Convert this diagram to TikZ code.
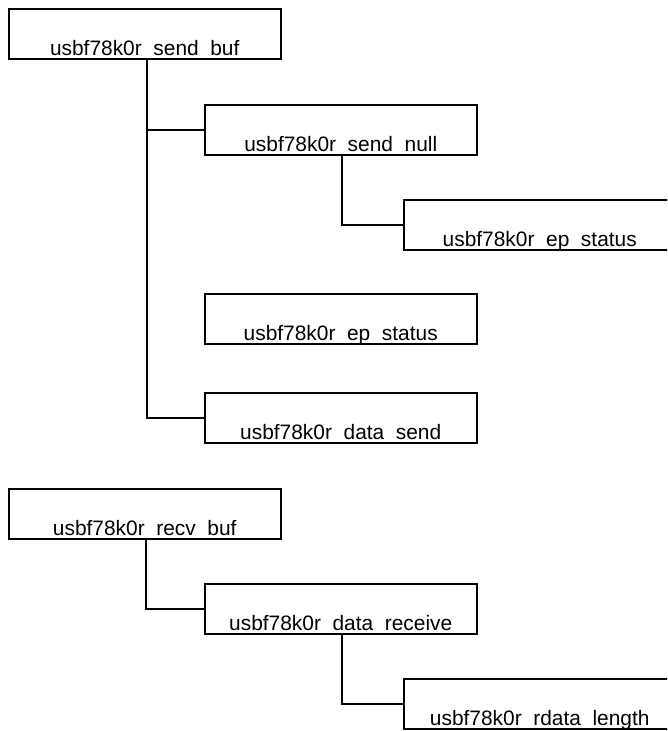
\documentclass[tikz,border=0pt]{standalone}
\usepackage{fontspec}
\setmainfont{Liberation Sans}
\newcommand{\usgap}{\hspace{0.556em}}
\begin{document}
\begin{tikzpicture}[x=1pt,y=-1pt,
  fnbox/.style={draw=black, line width=1.5pt, rectangle, anchor=north west,
    minimum width=272pt, minimum height=50pt, inner xsep=0pt, inner ysep=0pt,
    text height=46.3pt, text depth=3.7pt,
    font=\fontsize{20.9}{25}\selectfont},
  link/.style={draw=black, line width=1.5pt}]
\useasboundingbox (0,0) rectangle (667,731);
\clip (0,0) rectangle (667,731);
\node[fnbox] (b1) at (8,8)    {usbf78k0r\usgap send\usgap buf};
\node[fnbox] (b2) at (204,104) {usbf78k0r\usgap send\usgap null};
\node[fnbox] (b3) at (403,199) {usbf78k0r\usgap ep\usgap status};
\node[fnbox] (b4) at (204,293) {usbf78k0r\usgap ep\usgap status};
\node[fnbox] (b5) at (204,392) {usbf78k0r\usgap data\usgap send};
\node[fnbox] (b6) at (8,488)  {usbf78k0r\usgap recv\usgap buf};
\node[fnbox] (b7) at (204,583) {usbf78k0r\usgap data\usgap receive};
\node[fnbox] (b8) at (403,678) {usbf78k0r\usgap rdata\usgap length};
\coordinate (s1) at ([xshift=2pt]b1.south);
\coordinate (s2) at ([xshift=1pt]b2.south);
\coordinate (s6) at ([xshift=1pt]b6.south);
\coordinate (s7) at ([xshift=1pt]b7.south);
\draw[link] (s1) |- (b5.west);
\draw[link] (s1 |- b2.west) -- (b2.west);
\draw[link] (s2) |- (b3.west);
\draw[link] (s6) |- (b7.west);
\draw[link] (s7) |- (b8.west);
\end{tikzpicture}
\end{document}
